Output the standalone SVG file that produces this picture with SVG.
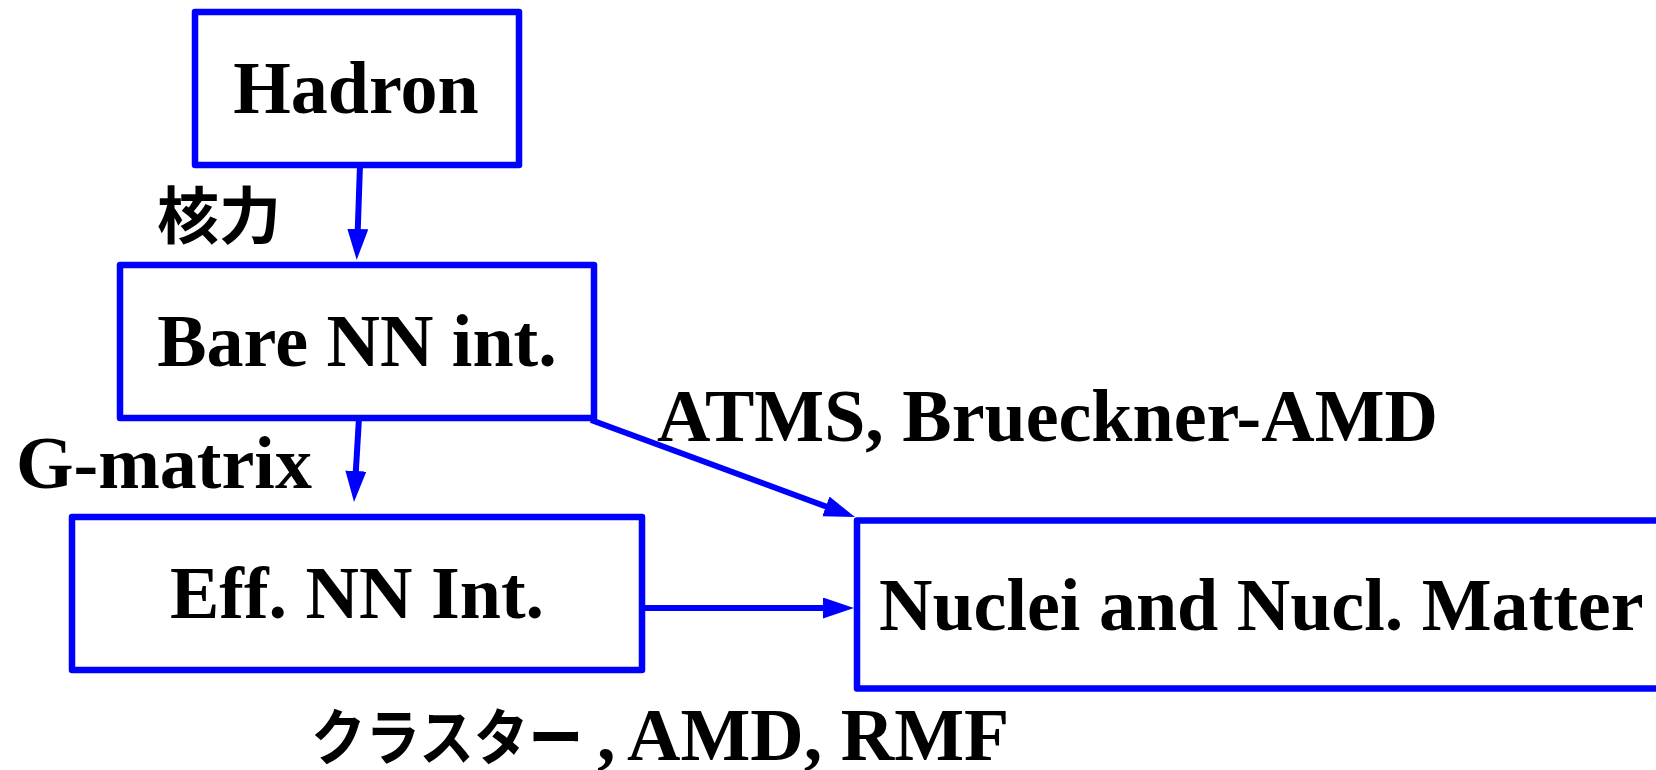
<svg xmlns="http://www.w3.org/2000/svg" width="1656" height="770" viewBox="0 0 1656 770">
  <style>
    .box { fill: #ffffff; stroke: #0000ff; stroke-width: 6.5; stroke-linejoin: round; }
    .lbl { font-family: "Liberation Serif", "Times New Roman", serif; font-weight: bold; font-size: 74px; fill: #000000; }
    .jp { font-family: "Noto Sans CJK JP", "Noto Sans CJK SC", sans-serif; font-weight: bold; fill: #000000; }
    .edge { stroke: #0000ff; stroke-width: 6; fill: none; marker-end: url(#head); }
  </style>
  <defs>
    <marker id="head" markerUnits="userSpaceOnUse" markerWidth="32" markerHeight="22" viewBox="0 0 32 22" refX="11" refY="10.5" orient="auto">
      <path d="M0,0 L31,10.5 L0,21 Z" fill="#0000ff"/>
    </marker>
  </defs>
  <rect width="1656" height="770" fill="#ffffff"/>

  <!-- connectors -->
  <g id="connectors">
    <line class="edge" x1="360" y1="165" x2="357.4" y2="240"/>
    <line class="edge" x1="359" y1="418" x2="355.2" y2="482"/>
    <line class="edge" x1="645" y1="608" x2="834" y2="608"/>
    <line class="edge" x1="591" y1="420" x2="836.2" y2="510.2"/>
  </g>

  <!-- nodes -->
  <g id="hadron">
    <rect class="box" x="195" y="12" width="324" height="153"/>
    <text class="lbl" x="356" y="113" text-anchor="middle">Hadron</text>
  </g>
  <g id="bare-nn">
    <rect class="box" x="120" y="265" width="474" height="153"/>
    <text class="lbl" x="357" y="366" text-anchor="middle">Bare NN int.</text>
  </g>
  <g id="eff-nn">
    <rect class="box" x="72" y="517" width="570" height="153"/>
    <text class="lbl" x="357" y="618" text-anchor="middle">Eff. NN Int.</text>
  </g>
  <g id="nuclei">
    <rect class="box" x="857" y="520.5" width="820" height="168"/>
    <text class="lbl" x="879" y="630">Nuclei and Nucl. Matter</text>
  </g>

  <!-- edge labels -->
  <g id="labels">
    <text class="jp" x="157" y="239" font-size="62">核力</text>
    <text class="lbl" x="16" y="488">G-matrix</text>
    <text class="lbl" x="657" y="441">ATMS, Brueckner-AMD</text>
    <text class="lbl" x="311" y="760"><tspan class="jp" font-size="61" textLength="272" lengthAdjust="spacingAndGlyphs">クラスター</tspan> <tspan x="597">,</tspan> <tspan x="627">AMD, RMF</tspan></text>
  </g>
</svg>
